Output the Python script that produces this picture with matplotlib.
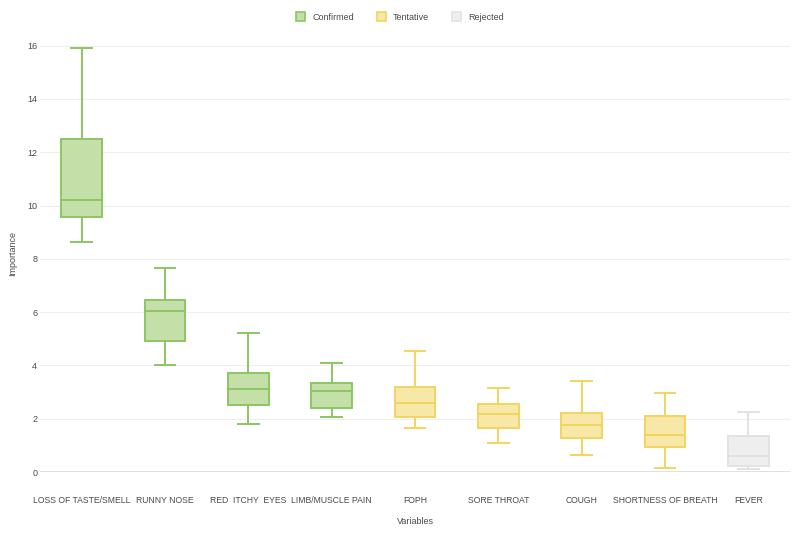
import matplotlib.pyplot as plt
from matplotlib.patches import Patch

plt.rcParams['font.family'] = ['Liberation Sans', 'DejaVu Sans']

variables = ['LOSS OF TASTE/SMELL', 'RUNNY NOSE', 'RED  ITCHY  EYES', 'LIMB/MUSCLE PAIN',
             'FOPH', 'SORE THROAT', 'COUGH', 'SHORTNESS OF BREATH', 'FEVER']
decision = ['Confirmed', 'Confirmed', 'Confirmed', 'Confirmed',
            'Tentative', 'Tentative', 'Tentative', 'Tentative', 'Rejected']
whislo = [8.62, 4.00, 1.79, 2.06, 1.66, 1.09, 0.65, 0.14, 0.10]
q1 = [9.56, 4.90, 2.52, 2.40, 2.07, 1.66, 1.27, 0.93, 0.24]
med = [10.19, 6.04, 3.13, 3.05, 2.60, 2.19, 1.75, 1.38, 0.59]
q3 = [12.48, 6.45, 3.71, 3.35, 3.20, 2.57, 2.21, 2.10, 1.35]
whishi = [15.92, 7.66, 5.20, 4.09, 4.53, 3.17, 3.41, 2.95, 2.25]

edge = {'Confirmed': '#8cc663', 'Tentative': '#f2d45e', 'Rejected': '#e2e2e2'}
fill = {'Confirmed': '#c4dfa8', 'Tentative': '#f7e8a8', 'Rejected': '#eeeeee'}
txt = '#4a4a4a'

fig = plt.figure(figsize=(8, 5.33), dpi=100)
ax = fig.add_axes([0.05, 0.1144, 0.9375, 0.82])

for i in range(len(variables)):
    st = [{'whislo': whislo[i], 'q1': q1[i], 'med': med[i], 'q3': q3[i],
           'whishi': whishi[i], 'fliers': []}]
    c = edge[decision[i]]
    ax.bxp(st, positions=[i], widths=0.49, patch_artist=True, showfliers=False,
           boxprops=dict(facecolor=fill[decision[i]], edgecolor=c, linewidth=1.4),
           medianprops=dict(color=c, linewidth=1.4),
           whiskerprops=dict(color=c, linewidth=1.4),
           capprops=dict(color=c, linewidth=1.4), capwidths=0.25, zorder=3)

ax.set_xlim(-0.5, len(variables) - 0.5)
ax.set_ylim(0, 16.4)
ax.set_yticks(range(0, 17, 2))
ax.set_xticks(range(len(variables)))
ax.set_xticklabels(variables)
ax.tick_params(axis='both', length=0, labelsize=6.5, labelcolor=txt)
ax.tick_params(axis='x', pad=17, labelsize=6.2)
ax.tick_params(axis='y', pad=2)
ax.grid(axis='y', color='#eeeeee', linewidth=0.8, zorder=0)
ax.axhline(0, color='#dcdcdc', linewidth=1.2, zorder=1)
for s in ax.spines.values():
    s.set_visible(False)
ax.set_xlabel('Variables', fontsize=6.5, color=txt, labelpad=9)
ax.set_ylabel('Importance', fontsize=6.5, color=txt)
ax.yaxis.set_label_coords(-0.03, 0.5)

handles = [Patch(facecolor=fill[k], edgecolor=edge[k], linewidth=1.2, label=k)
           for k in ['Confirmed', 'Tentative', 'Rejected']]
fig.legend(handles=handles, loc='center', bbox_to_anchor=(0.5, 0.968), ncol=3,
           frameon=False, fontsize=6.5, handlelength=1.0, handleheight=1.0,
           columnspacing=2.5, labelcolor=txt)

fig.savefig('out.png', dpi=100)
